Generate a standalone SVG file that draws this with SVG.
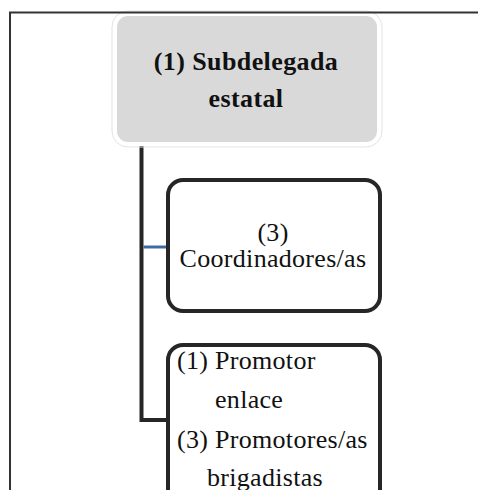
<svg xmlns="http://www.w3.org/2000/svg" width="478" height="490" viewBox="0 0 478 490">
<style>
.box{fill:#ffffff;stroke:#262626;stroke-width:4}
.t{font-family:"Liberation Serif","Times New Roman",serif;font-size:26px;fill:#111111;letter-spacing:0.3px}
.b{font-weight:bold;letter-spacing:0.4px}
.conn{fill:none;stroke:#262626;stroke-width:4}
</style>
<rect width="478" height="490" fill="#ffffff"/>
<g id="connectors">
<path class="conn" d="M141.5 146 V420 H167"/>
<line x1="143.5" y1="247" x2="166" y2="247" stroke="#3f6aa0" stroke-width="3"/>
</g>
<g id="node1">
<rect x="112" y="11" width="270" height="136" rx="16" fill="none" stroke="#e2e2e2" stroke-width="1"/>
<rect x="115" y="14" width="264" height="130" rx="13" fill="#d9d9d9" stroke="#ffffff" stroke-width="4"/>
<text class="t b" x="246" y="70" text-anchor="middle">(1) Subdelegada</text>
<text class="t b" x="246" y="107" text-anchor="middle">estatal</text>
</g>
<g id="node2">
<rect class="box" x="168" y="180" width="212" height="131" rx="15"/>
<text class="t" x="273" y="241" text-anchor="middle">(3)</text>
<text class="t" x="273" y="267" text-anchor="middle">Coordinadores/as</text>
</g>
<g id="node3">
<rect class="box" x="168" y="345" width="212" height="170" rx="15"/>
<text class="t" x="177" y="369">(1) Promotor</text>
<text class="t" x="215" y="408">enlace</text>
<text class="t" x="177" y="448">(3) Promotores/as</text>
<text class="t" x="207" y="486">brigadistas</text>
</g>
<g id="frame">
<path d="M10 490 V12.5 H478" fill="none" stroke="#333333" stroke-width="2"/>
</g>
</svg>
